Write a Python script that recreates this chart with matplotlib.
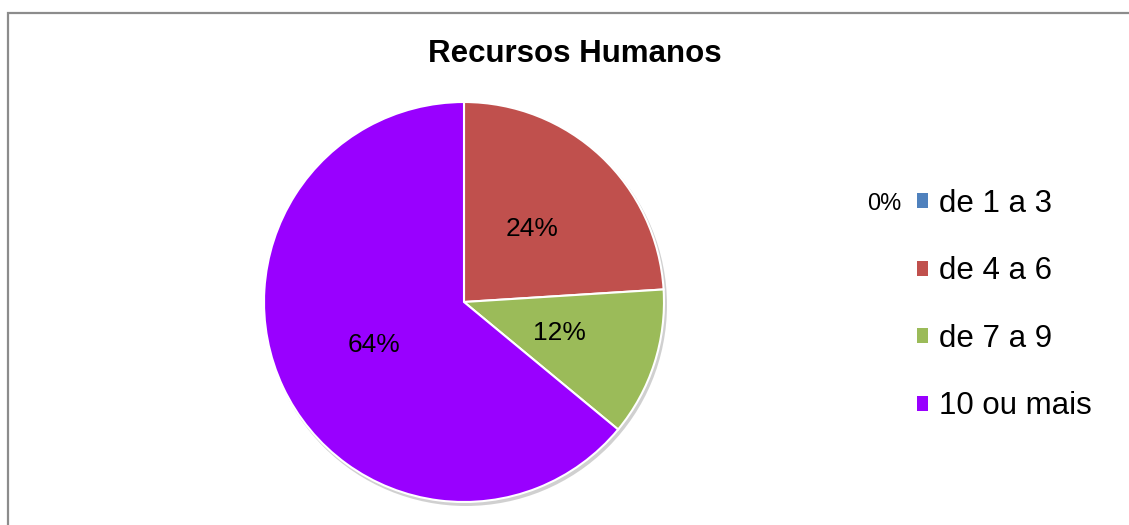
import matplotlib.pyplot as plt
from matplotlib.patches import Rectangle, Circle

plt.rcParams['font.family'] = ['Liberation Sans', 'DejaVu Sans']

titulo = 'Recursos Humanos'
categorias = ['de 1 a 3', 'de 4 a 6', 'de 7 a 9', '10 ou mais']
valores = [0, 24, 12, 64]
cores = ['#4F81BD', '#C0504D', '#9BBB59', '#9900FF']

W, H = 1129, 525
fig = plt.figure(figsize=(W / 100, H / 100), dpi=100)
ax = fig.add_axes([0, 0, 1, 1])

# moldura do grafico (cortada a direita e em baixo)
fig.patches.append(Rectangle((8 / W, -0.2), 1.2, 0.2 + (H - 12.5) / H,
                             transform=fig.transFigure, fill=False,
                             edgecolor='#8c8c8c', linewidth=1.6))

cx, cy, r = 464, H - 302, 200

# sombra leve
ax.add_patch(Circle((cx + 2, cy - 3), r + 1, facecolor='#bdbdbd',
                    edgecolor='none', alpha=0.7, zorder=0))

wedges, textos, pcts = ax.pie(
    valores, colors=cores, startangle=90, counterclock=False,
    center=(cx, cy), radius=r, frame=True,
    autopct=lambda p: '' if p < 0.5 else f'{p:.0f}%', pctdistance=0.5,
    wedgeprops=dict(edgecolor='white', linewidth=1.5),
    textprops=dict(fontsize=19, color='black'))
ax.set_xlim(0, W)
ax.set_ylim(0, H)
ax.set_aspect('equal')
ax.axis('off')

ax.text(575, H - 54, titulo, ha='center', va='center',
        fontsize=22.5, fontweight='bold')

leg = ax.legend(wedges, categorias, loc='center left',
                bbox_to_anchor=(917 / W, 1 - 305 / H),
                bbox_transform=fig.transFigure, frameon=False,
                fontsize=22.5, handlelength=0.36, handleheight=0.36,
                handletextpad=0.34, labelspacing=1.2,
                borderpad=0, borderaxespad=0)
for h in leg.legend_handles:
    h.set_edgecolor('none')

# rotulo do valor zero, mostrado junto a legenda
ax.text(901, H - 204, f'{valores[0]}%', ha='right', va='center', fontsize=17)

fig.savefig('out.png', dpi=100)
